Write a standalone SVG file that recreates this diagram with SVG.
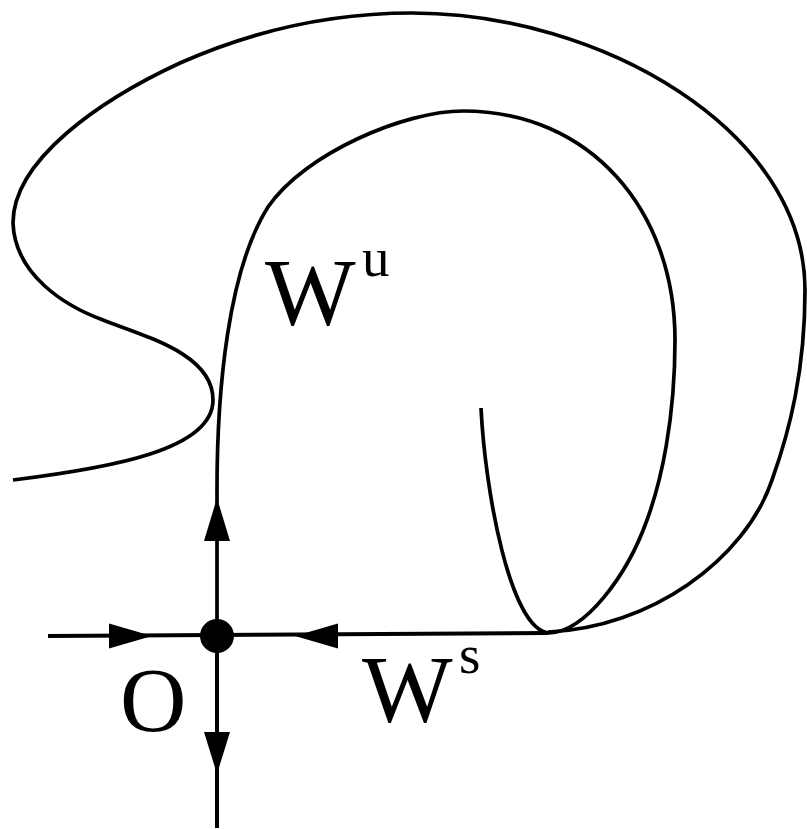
<svg xmlns="http://www.w3.org/2000/svg" width="807" height="829" viewBox="0 0 807 829">
<rect width="807" height="829" fill="#fff"/>
<g id="connectors">
<g fill="none" stroke="#000" stroke-width="3.7" stroke-linejoin="round">
<path id="outer" d="M13,480 C110,468 213,450 213,400 C213,355 150,338 103,320 C65,306 15,275 13,223 C13,160 100,100 180,63 C250,32 330,13 412,13 C600,13 805,130 805,290 C805,370 790,430 772,480 C745,560 650,628 548,632"/>
<path id="inner" d="M217,636 L217,490 C217,390 228,270 268,207 C305,153 405,111 463,111 C590,111 675,210 675,340 C675,420 661,482 647,520 C627,576 585,632 549,633 C510,630 485,490 481,408"/>
</g>
<g fill="none" stroke="#000" stroke-width="4">
<line x1="48" y1="636" x2="548" y2="633"/>
<line x1="217" y1="636" x2="217" y2="828"/>
</g>
<g fill="#000">
<polygon points="217,498 204,541 230,541"/>
<polygon points="152,636 109,623.5 109,648.5"/>
<polygon points="295,636 338,623.5 338,648.5"/>
<polygon points="217,774 204,732 230,732"/>
</g>
</g>
<g id="node-O">
<circle cx="217" cy="636" r="17" fill="#000"/>
<text x="120" y="731" font-size="92" font-family="Times New Roman" style="font-family:Times New Roman">O</text>
</g>
<g id="label-Wu">
<text x="265" y="325" font-size="96" font-family="Times New Roman" style="font-family:Times New Roman">W<tspan x="362" y="276" font-size="55">u</tspan></text>
</g>
<g id="label-Ws">
<text x="362" y="722" font-size="96" font-family="Times New Roman" style="font-family:Times New Roman">W<tspan x="459" y="673" font-size="55">s</tspan></text>
</g>
</svg>
